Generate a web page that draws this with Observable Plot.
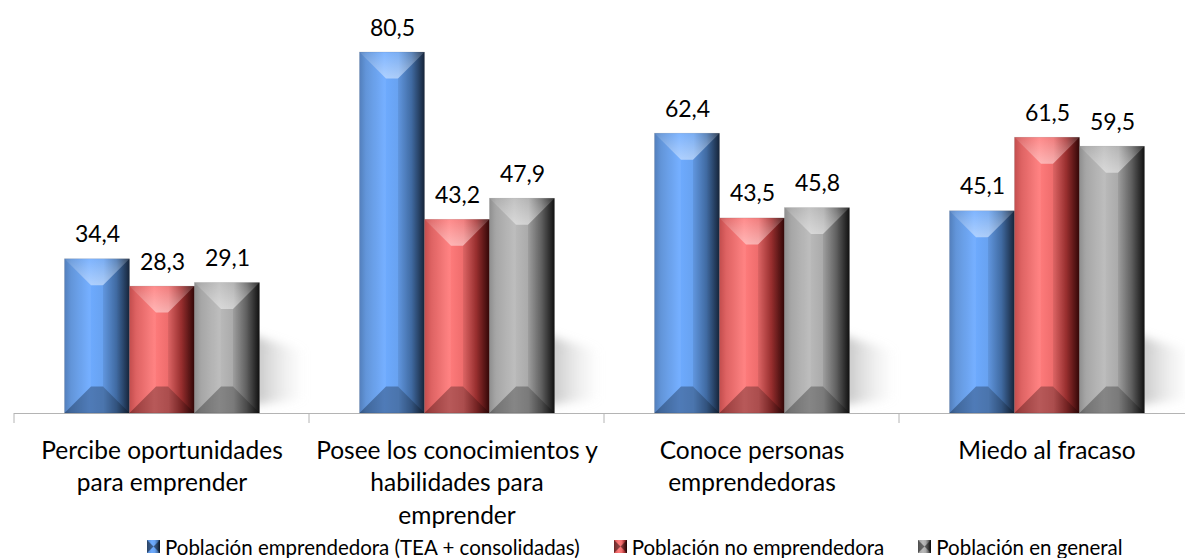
<!DOCTYPE html>
<html><head><meta charset="utf-8">
<script src="https://cdn.jsdelivr.net/npm/d3@7"></script>
<script src="https://cdn.jsdelivr.net/npm/@observablehq/plot@0.6"></script>
<style>
html,body{margin:0;padding:0;background:#fff;overflow:hidden;}
body{width:1185px;height:558px;font-family:Lato, "Open Sans", sans-serif;}
#legend{height:23px;margin-top:3px;display:flex;align-items:center;padding-left:147px;font-size:20.5px;color:#000;white-space:nowrap;}
#legend .item{display:flex;align-items:center;margin-right:34px;}
#legend svg{margin-right:5px;}
</style></head><body>
<div id="chart"></div>
<div id="legend"></div>
<script>
const categories = [
  "Percibe oportunidades\npara emprender",
  "Posee los conocimientos y\nhabilidades para\nemprender",
  "Conoce personas\nemprendedoras",
  "Miedo al fracaso"
];
const seriesNames = [
  "Población emprendedora (TEA + consolidadas)",
  "Población no emprendedora",
  "Población en general"
];
const emprendedora   = [34.4, 80.5, 62.4, 45.1];
const noEmprendedora = [28.3, 43.2, 43.5, 61.5];
const general        = [29.1, 47.9, 45.8, 59.5];
const seriesValues = [emprendedora, noEmprendedora, general];

// styles
const gradStops = [
  [[0,"#4a78b8"],[0.1,"#5a90d8"],[0.38,"#6eabff"],[0.6,"#68a2f0"],[0.8,"#4674b0"],[1,"#18283f"]],
  [[0,"#c04444"],[0.1,"#dc5a5a"],[0.38,"#ff7c7c"],[0.6,"#ee6c6c"],[0.8,"#a43232"],[1,"#360808"]],
  [[0,"#8a8a8a"],[0.1,"#a2a2a2"],[0.38,"#bababa"],[0.6,"#aaaaaa"],[0.8,"#686868"],[1,"#121212"]]
];
const gradIds = ["gBlue","gRed","gGrey"];
const fmt = v => v.toFixed(1).replace(".", ",");

const rows = categories.flatMap((c, i) =>
  seriesNames.map((s, j) => ({category: c, series: s, value: seriesValues[j][i]})));

const W = 1185, H = 532;
const plot = Plot.plot({
  width: W, height: H,
  marginLeft: 12.5, marginRight: -11, marginTop: 9.4, marginBottom: 119,
  fx: {domain: categories, padding: 0, axis: null},
  x: {domain: seriesNames, paddingInner: 0, paddingOuter: 0.742, axis: null},
  y: {domain: [0, 90], axis: null},
  color: {domain: seriesNames, range: gradIds.map(id => `url(#${id})`), type: "ordinal"},
  style: {fontFamily: "Lato, 'Open Sans', sans-serif", background: "transparent", overflow: "hidden"},
  marks: [
    Plot.ruleY([0], {stroke: "#b4b4b4", strokeWidth: 1}),
    Plot.barY(rows, {fx: "category", x: "series", y: "value", fill: "series"}),
    Plot.text(rows, {fx: "category", x: "series", y: "value", text: d => fmt(d.value),
      dy: -17, lineAnchor: "bottom", fontSize: 23, fill: "#000"}),
    Plot.text(categories, {fx: d => d, text: d => d, frameAnchor: "bottom",
      lineAnchor: "top", dy: 22, fontSize: 24.5, lineHeight: 32.5/24.5, fill: "#000"})
  ]
});

const svg = d3.select(plot);
const defs = svg.insert("defs", ":first-child");
gradIds.forEach((id, k) => {
  const g = defs.append("linearGradient").attr("id", id).attr("x1", 0).attr("x2", 1).attr("y1", 0).attr("y2", 0);
  gradStops[k].forEach(([o, c]) => g.append("stop").attr("offset", o).attr("stop-color", c));
});
const tb = defs.append("linearGradient").attr("id", "topBev").attr("x1", 0).attr("x2", 0).attr("y1", 0).attr("y2", 1);
tb.append("stop").attr("offset", 0).attr("stop-color", "#fff").attr("stop-opacity", 0.12);
tb.append("stop").attr("offset", 1).attr("stop-color", "#fff").attr("stop-opacity", 0.45);
const sh = defs.append("linearGradient").attr("id", "shadowG").attr("x1", 0).attr("x2", 1).attr("y1", 0).attr("y2", 0);
sh.append("stop").attr("offset", 0).attr("stop-color", "#a8a8a8").attr("stop-opacity", 0.75);
sh.append("stop").attr("offset", 1).attr("stop-color", "#d8d8d8").attr("stop-opacity", 0.0);
const f = defs.append("filter").attr("id", "blur").attr("x", "-50%").attr("y", "-50%").attr("width", "200%").attr("height", "200%");
f.append("feGaussianBlur").attr("stdDeviation", 5);

const yS = plot.scale("y");
const base = yS.apply(0);

// shadows per facet group
const groups = new Set();
svg.selectAll('g[aria-label="bar"] rect').each(function(){ groups.add(this.parentNode); });
groups.forEach(gNode => {
  const rects = Array.from(gNode.querySelectorAll("rect"));
  const right = d3.max(rects, r => +r.getAttribute("x") + +r.getAttribute("width"));
  d3.select(gNode).insert("polygon", ":first-child")
    .attr("points", [[right-8, base-8],[right+45, base-14],[right+45, base-62],[right-8, base-78]].map(p=>p.join(",")).join(" "))
    .attr("fill", "url(#shadowG)").attr("filter", "url(#blur)");
});

// bevels
svg.selectAll('g[aria-label="bar"] rect').each(function(){
  const x = +this.getAttribute("x"), y = +this.getAttribute("y");
  const w = +this.getAttribute("width"), h = +this.getAttribute("height");
  const b = Math.min(27, w/2 - 6, h/2);
  const parent = this.parentNode, next = this.nextSibling;
  const mk = (pts, fill, op) => {
    const p = document.createElementNS("http://www.w3.org/2000/svg", "polygon");
    p.setAttribute("points", pts.map(q => q.join(",")).join(" "));
    p.setAttribute("fill", fill); p.setAttribute("fill-opacity", op);
    parent.insertBefore(p, next);
  };
  mk([[x,y],[x+w,y],[x+w-b,y+b],[x+b,y+b]], "url(#topBev)", 1);
  mk([[x,y+h],[x+w,y+h],[x+w-b,y+h-b],[x+b,y+h-b]], "#000000", 0.28);
  mk([[x,y],[x+b,y+b],[x+b,y+h-b],[x,y+h]], "#ffffff", 0.05);
  mk([[x+w,y],[x+w-b,y+b],[x+w-b,y+h-b],[x+w,y+h]], "#000000", 0.08);
  this.setAttribute("stroke", "rgba(0,0,0,0.15)");
  this.setAttribute("stroke-width", 0.6);
});

// category boundary ticks
const fxS = plot.scale("fx");
const tg = svg.append("g");
categories.forEach(c => {
  const xx = fxS.apply(c);
  tg.append("line").attr("x1", xx).attr("x2", xx).attr("y1", base).attr("y2", base + 10)
    .attr("stroke", "#b4b4b4");
});
const lastX = fxS.apply(categories[categories.length-1]) + fxS.bandwidth;
tg.append("line").attr("x1", lastX).attr("x2", lastX).attr("y1", base).attr("y2", base + 10).attr("stroke", "#b4b4b4");

document.getElementById("chart").appendChild(plot);

// legend
const legend = d3.select("#legend");
seriesNames.forEach((s, k) => {
  const it = legend.append("div").attr("class", "item");
  const m = it.append("svg").attr("width", 13).attr("height", 13);
  const lg = m.append("defs").append("linearGradient").attr("id", "L" + gradIds[k]);
  gradStops[k].forEach(([o, c]) => lg.append("stop").attr("offset", o).attr("stop-color", c));
  m.append("rect").attr("width", 13).attr("height", 13).attr("fill", `url(#L${gradIds[k]})`);
  m.append("polygon").attr("points", "0,0 6.5,6.5 0,13").attr("fill", "#000").attr("fill-opacity", 0.45);
  m.append("polygon").attr("points", "13,0 6.5,6.5 13,13").attr("fill", "#000").attr("fill-opacity", 0.45);
  it.append("span").text(s);
});
</script>
</body></html>
